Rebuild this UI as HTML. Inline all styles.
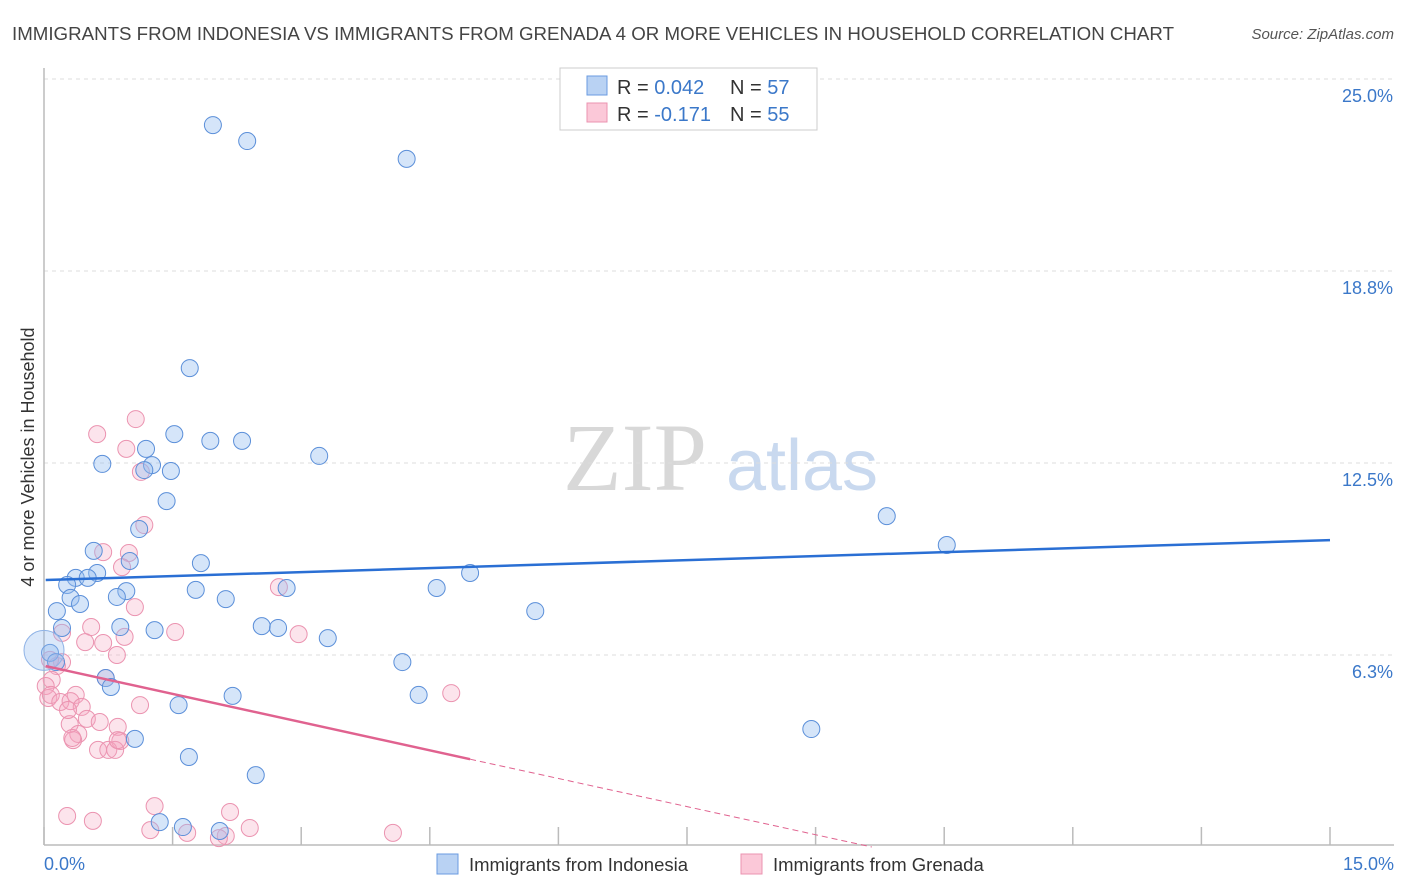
<!DOCTYPE html>
<html><head><meta charset="utf-8"><style>
body{margin:0;background:#fff;font-family:"Liberation Sans",sans-serif}
svg{display:block}
</style></head><body>
<svg id="chart" width="1406" height="892" viewBox="0 0 1406 892" xmlns="http://www.w3.org/2000/svg" font-family="Liberation Sans, sans-serif">
<text x="12" y="40" font-size="18" fill="#444" textLength="1162" lengthAdjust="spacingAndGlyphs">IMMIGRANTS FROM INDONESIA VS IMMIGRANTS FROM GRENADA 4 OR MORE VEHICLES IN HOUSEHOLD CORRELATION CHART</text>
<text x="1394" y="39" font-size="15" fill="#555" font-style="italic" text-anchor="end">Source: ZipAtlas.com</text>
<g>
<text x="635" y="490" font-size="96" fill="#d8d8d8" font-family="Liberation Serif, serif" text-anchor="middle">ZIP</text>
<text x="802" y="490" font-size="72" fill="#c9d9ef" text-anchor="middle">atlas</text>
</g>
<g id="grid"></g>
<line x1="44" y1="68" x2="44" y2="845" stroke="#bbb" stroke-width="1.5"/>
<line x1="44" y1="845" x2="1394" y2="845" stroke="#bbb" stroke-width="1.5"/>
<g id="xticks"></g>
<g id="ylabels"></g>
<text x="44" y="870" font-size="18" fill="#3b78c9">0.0%</text>
<text x="1394" y="870" font-size="18" fill="#3b78c9" text-anchor="end">15.0%</text>
<text transform="translate(34,457) rotate(-90)" font-size="18" fill="#333" text-anchor="middle">4 or more Vehicles in Household</text>
<g id="pinkpts"></g>
<g id="bluepts"></g>
<g id="trends"></g>
<g>
<rect x="560" y="68" width="257" height="62" fill="#fff" stroke="#ccc"/>
<rect x="587" y="76" width="20" height="19" fill="#b9d2f3" stroke="#6a9be0"/>
<rect x="587" y="103" width="20" height="19" fill="#fbc8d8" stroke="#eb93b0"/>
<text x="617" y="94" font-size="20" fill="#333">R = <tspan fill="#3b78c9">0.042</tspan><tspan x="730">N = </tspan><tspan fill="#3b78c9">57</tspan></text>
<text x="617" y="121" font-size="20" fill="#333">R = <tspan fill="#3b78c9">-0.171</tspan><tspan x="730">N = </tspan><tspan fill="#3b78c9">55</tspan></text>
</g>
<g>
<rect x="437" y="854" width="21" height="20" fill="#b9d2f3" stroke="#6a9be0"/>
<text x="469" y="871" font-size="18.5" fill="#333">Immigrants from Indonesia</text>
<rect x="741" y="854" width="21" height="20" fill="#fbc8d8" stroke="#eb93b0"/>
<text x="773" y="871" font-size="18.5" fill="#333">Immigrants from Grenada</text>
</g>
</svg>
<script>
const blueX=[1.97,2.37,4.23,1.70,1.52,1.94,2.31,1.19,3.21,0.68,1.26,1.17,1.48,1.43,1.11,9.83,10.53,0.58,1.00,1.83,0.62,4.97,0.37,0.51,0.27,4.58,1.77,0.96,2.83,0.85,0.31,2.12,0.42,5.73,0.15,2.54,2.73,0.21,0.89,1.29,3.31,0.07,0.14,4.18,0.72,0.78,2.20,4.37,1.57,1.06,8.95,1.69,2.47,1.35,1.62,2.05];
const blueY=[23.50,22.98,22.40,15.59,13.44,13.22,13.22,12.96,12.73,12.47,12.43,12.27,12.24,11.26,10.35,10.77,9.83,9.64,9.31,9.24,8.92,8.92,8.76,8.76,8.53,8.43,8.37,8.33,8.43,8.14,8.11,8.07,7.91,7.68,7.68,7.19,7.13,7.13,7.16,7.06,6.80,6.32,6.02,6.02,5.50,5.21,4.92,4.95,4.62,3.52,3.84,2.93,2.34,0.81,0.65,0.52];
const blueBigX=[0.0], blueBigY=[6.4];
const pinkX=[1.07,0.62,0.96,1.13,1.17,0.69,0.99,0.91,2.74,1.06,0.55,1.53,0.21,2.97,0.48,0.69,0.94,0.85,0.21,0.15,0.72,0.09,0.02,0.05,0.08,0.37,0.19,4.75,0.31,0.44,1.12,0.30,0.50,0.65,0.86,0.40,0.34,0.89,0.63,0.75,0.83,1.29,0.27,0.57,2.17,1.24,1.67,2.40,4.07,2.12,2.04,0.28,0.07,0.86,0.33];
const pinkY=[13.93,13.44,12.96,12.21,10.48,9.60,9.57,9.11,8.46,7.81,7.16,7.00,6.97,6.93,6.67,6.64,6.84,6.25,6.02,5.89,5.50,5.44,5.24,4.85,4.95,4.95,4.72,5.01,4.75,4.56,4.62,4.00,4.17,4.07,3.91,3.68,3.48,3.45,3.16,3.16,3.16,1.33,1.01,0.85,1.14,0.55,0.46,0.62,0.46,0.36,0.29,4.46,6.09,3.48,3.55];
const yTicks=[6.25,12.5,18.75,25];
const yTickLabels=["6.3%","12.5%","18.8%","25.0%"];
const xTicks=[0,1.5,3,4.5,6,7.5,9,10.5,12,13.5,15];
const blueTrend=[8.69,9.99];      // y at x=0 and x=15
const pinkTrend=[5.89,-0.61];      // intercept, slope per %
const pinkSolidEnd=4.97;
const NS="http://www.w3.org/2000/svg";
const sx=v=>44+v/15*1286;
const sy=v=>847-v/6.25*192;
function mk(tag,attrs,parent){const e=document.createElementNS(NS,tag);for(const k in attrs)e.setAttribute(k,attrs[k]);parent.appendChild(e);return e;}
const grid=document.getElementById('grid'),yl=document.getElementById('ylabels'),xt=document.getElementById('xticks');
yTicks.forEach((t,i)=>{
  const l=mk('line',{x1:44,x2:1394,y1:sy(t),y2:sy(t),stroke:'#ddd','stroke-dasharray':'4,4'},grid);
  
  
  const tx=mk('text',{x:1393,y:sy(t)+23,'font-size':18,fill:'#3b78c9','text-anchor':'end'},yl);
  tx.textContent=yTickLabels[i];
  
  
});
xTicks.forEach(t=>{
  const l=mk('line',{x1:sx(t),x2:sx(t),y1:827,y2:845,stroke:'#bbb','stroke-width':1.5},xt);
  
  
});
const pp=document.getElementById('pinkpts');
pinkX.forEach((x,i)=>{
  const c=mk('circle',{cx:sx(x),cy:sy(pinkY[i]),r:8.5,fill:'rgba(246,167,192,0.3)',stroke:'#eb93b0','stroke-width':1},pp);
  
  
});
const bp=document.getElementById('bluepts');
blueX.forEach((x,i)=>{
  const c=mk('circle',{cx:sx(x),cy:sy(blueY[i]),r:8.5,fill:'rgba(150,190,240,0.4)',stroke:'#5b8fd9','stroke-width':1},bp);
  
  
});
blueBigX.forEach((x,i)=>{
  const c=mk('circle',{cx:sx(x),cy:sy(blueBigY[i]),r:20,fill:'rgba(150,190,240,0.35)',stroke:'#8fb3e6','stroke-width':1},bp);
  
  
});
const tr=document.getElementById('trends');
const bl=mk('line',{x1:sx(0.02),y1:sy(blueTrend[0]),x2:sx(15),y2:sy(blueTrend[1]),stroke:'#2a6fd4','stroke-width':2.5},tr);


const pf=x=>pinkTrend[0]+pinkTrend[1]*x;
const ps=mk('line',{x1:sx(0.02),y1:sy(pf(0)),x2:sx(pinkSolidEnd),y2:sy(pf(pinkSolidEnd)),stroke:'#e0628f','stroke-width':2.5},tr);


const xEnd=-pinkTrend[0]/pinkTrend[1];
const pd=mk('line',{x1:sx(pinkSolidEnd),y1:sy(pf(pinkSolidEnd)),x2:sx(xEnd),y2:sy(0),stroke:'#e0628f','stroke-width':1,'stroke-dasharray':'6,4'},tr);


</script>
</body></html>
